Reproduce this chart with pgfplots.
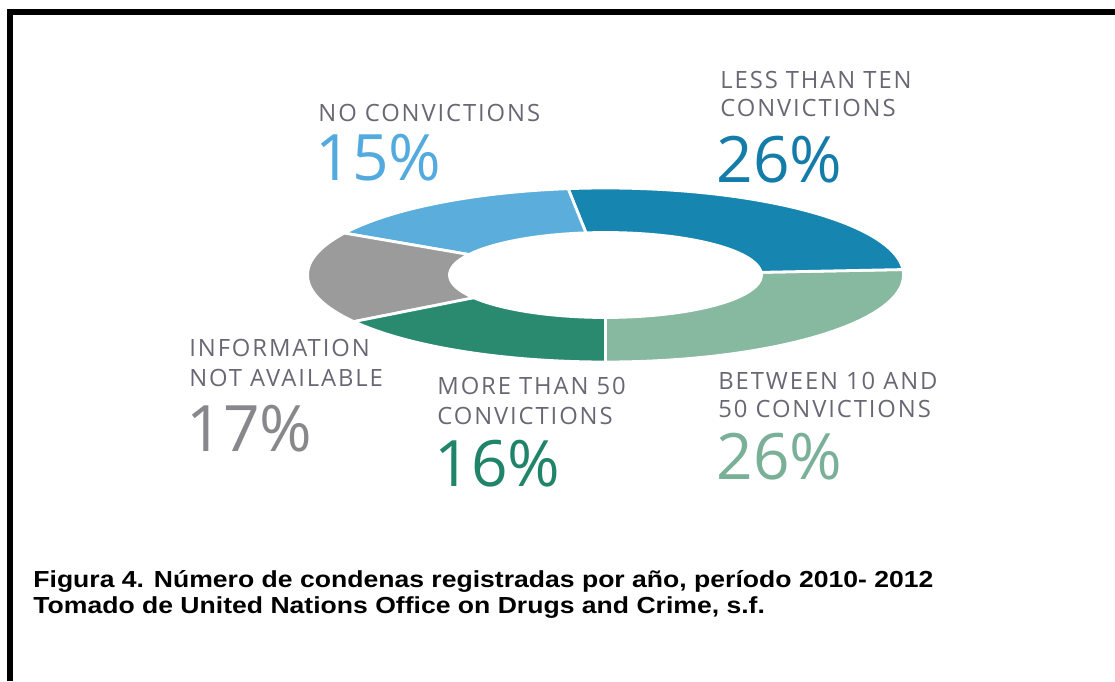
\documentclass[border=0pt]{standalone}
\usepackage{pgfplots}
\usepackage{pgfplotstable}
\pgfplotsset{compat=1.18}
\usepackage{fontspec}
\setmainfont{Liberation Sans}
\newfontfamily\lab[LetterSpace=8]{Open Sans}
\newfontfamily\num{Open Sans}
\definecolor{cLG}{RGB}{134,185,160}
\definecolor{cDB}{RGB}{22,133,176}
\definecolor{cLB}{RGB}{91,174,220}
\definecolor{cGR}{RGB}{155,155,155}
\definecolor{cDG}{RGB}{42,138,112}
\definecolor{tGray}{RGB}{104,104,116}
\definecolor{tBlue}{RGB}{20,124,168}
\definecolor{tLBlue}{RGB}{82,170,222}
\definecolor{tGray2}{RGB}{135,135,140}
\definecolor{tDGreen}{RGB}{32,132,106}
\definecolor{tLGreen}{RGB}{122,176,152}

% share of each slice (percent), drawn counter-clockwise from the bottom
\pgfplotstableread{
pct color
26 cLG
26 cDB
15 cLB
17 cGR
16 cDG
}\slices

\begin{document}
\begin{tikzpicture}
\begin{axis}[
  scale only axis, width=557.5pt, height=340.5pt,
  xmin=0, xmax=1115, ymin=0, ymax=681,
  hide axis, clip=false]
\path (axis cs:0,0) rectangle (axis cs:1115,681);
% frame
\fill[black] (axis cs:7,0) rectangle (axis cs:13,672);
\fill[black] (axis cs:7,666) rectangle (axis cs:1115,672);
% donut
\pgfplotstablegetrowsof{\slices}
\pgfmathtruncatemacro\nrows{\pgfplotsretval-1}
\xdef\cum{-90}
\pgfplotsforeachungrouped \i in {0,...,\nrows}{%
  \pgfplotstablegetelem{\i}{pct}\of\slices \let\p\pgfplotsretval
  \pgfplotstablegetelem{\i}{color}\of\slices \let\c\pgfplotsretval
  \pgfmathsetmacro\sa{\cum}%
  \pgfmathsetmacro\sb{\cum+3.6*\p}%
  \pgfmathsetmacro\xo{605.5+298*cos(\sa)}%
  \pgfmathsetmacro\yo{406+87*sin(\sa)}%
  \pgfmathsetmacro\xin{605.5+156*cos(\sb)}%
  \pgfmathsetmacro\yin{406+42.5*sin(\sb)}%
  \edef\temp{\noexpand\filldraw[fill=\c, draw=white, line width=1.4pt, line join=round]
    (axis cs:\xo,\yo) arc[start angle=\sa, end angle=\sb, x radius=149pt, y radius=43.5pt]
    -- (axis cs:\xin,\yin) arc[start angle=\sb, end angle=\sa, x radius=78pt, y radius=21.25pt] -- cycle;}%
  \temp
  \xdef\cum{\sb}%
}
% labels
\node[anchor=base west, inner sep=0, text=tGray, font=\lab\fontsize{11.9}{14}\selectfont] at (axis cs:318,559) {NO CONVICTIONS};
\node[anchor=base west, inner sep=0, text=tLBlue, font=\num\fontsize{32}{36}\selectfont] at (axis cs:315,500) {15\%};

\node[anchor=base west, inner sep=0, text=tGray, font=\lab\fontsize{11.9}{14}\selectfont] at (axis cs:720,592) {LESS THAN TEN};
\node[anchor=base west, inner sep=0, text=tGray, font=\lab\fontsize{11.9}{14}\selectfont] at (axis cs:720,564) {CONVICTIONS};
\node[anchor=base west, inner sep=0, text=tBlue, font=\num\fontsize{32}{36}\selectfont] at (axis cs:716,498) {26\%};

\node[anchor=base west, inner sep=0, text=tGray, font=\lab\fontsize{11.9}{14}\selectfont] at (axis cs:189,324) {INFORMATION};
\node[anchor=base west, inner sep=0, text=tGray, font=\lab\fontsize{11.9}{14}\selectfont] at (axis cs:189,294) {NOT AVAILABLE};
\node[anchor=base west, inner sep=0, text=tGray2, font=\num\fontsize{32}{36}\selectfont] at (axis cs:186,229) {17\%};

\node[anchor=base west, inner sep=0, text=tGray, font=\lab\fontsize{11.9}{14}\selectfont] at (axis cs:437,286) {MORE THAN 50};
\node[anchor=base west, inner sep=0, text=tGray, font=\lab\fontsize{11.9}{14}\selectfont] at (axis cs:437,256) {CONVICTIONS};
\node[anchor=base west, inner sep=0, text=tDGreen, font=\num\fontsize{32}{36}\selectfont] at (axis cs:434,194) {16\%};

\node[anchor=base west, inner sep=0, text=tGray, font=\lab\fontsize{11.9}{14}\selectfont] at (axis cs:718,291) {BETWEEN 10 AND};
\node[anchor=base west, inner sep=0, text=tGray, font=\lab\fontsize{11.9}{14}\selectfont] at (axis cs:718,263) {50 CONVICTIONS};
\node[anchor=base west, inner sep=0, text=tLGreen, font=\num\fontsize{32}{36}\selectfont] at (axis cs:716,201) {26\%};
% caption
\node[anchor=base west, inner sep=0, font=\bfseries\fontsize{11.6}{13}\selectfont] at (axis cs:33,93) {\scalebox{1.145}[1]{Figura 4. Número de condenas registradas por año, período 2010- 2012}};
\node[anchor=base west, inner sep=0, font=\bfseries\fontsize{11.6}{13}\selectfont] at (axis cs:33,68) {\scalebox{1.145}[1]{Tomado de United Nations Office on Drugs and Crime, s.f.}};
\end{axis}
\end{tikzpicture}
\end{document}
